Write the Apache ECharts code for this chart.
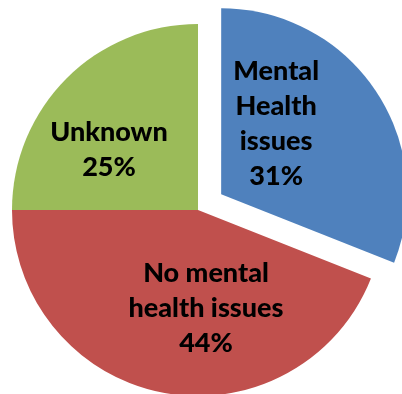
<!DOCTYPE html>
<html>
<head>
<meta charset="utf-8">
<script src="https://cdn.jsdelivr.net/npm/echarts@6/dist/echarts.min.js"></script>
<style>
  html, body { margin: 0; padding: 0; background: #ffffff; }
  #chart { width: 402px; height: 394px; }
</style>
</head>
<body>
<div id="chart"></div>
<script>
// Share of cases by mental health status
const categories = ['Mental\nHealth\nissues', 'No mental\nhealth issues', 'Unknown'];
const percentages = [31, 44, 25];
const sliceColors = ['#4F81BD', '#C0504D', '#9BBB59'];
const explodedIndex = 0;

// Pie geometry
const CX = 198, CY = 210, R = 186, EXPLODE = 28;

// Label anchor points (slice-local offsets from each pie's centre)
const labelOffsets = [[55, -70], [8, 98], [-89, -60]];

// Centre of the pulled-out slice: shifted along its bisector
const total = percentages.reduce((a, b) => a + b, 0);
const before = percentages.slice(0, explodedIndex).reduce((a, b) => a + b, 0);
const midAngle = (before + percentages[explodedIndex] / 2) / total * 2 * Math.PI;
const EX = CX + EXPLODE * Math.sin(midAngle);
const EY = CY - EXPLODE * Math.cos(midAngle);

const labelStyle = {
  show: true,
  position: 'inside',
  formatter: p => p.name + '\n' + p.value + '%',
  fontFamily: 'Lato',
  fontWeight: 900,
  fontSize: 27,
  lineHeight: 35,
  color: '#000000',
  align: 'center'
};

function pieSeries(center, showIndex) {
  return {
    type: 'pie',
    center: center,
    radius: [0, R],
    startAngle: 90,
    clockwise: true,
    avoidLabelOverlap: false,
    silent: true,
    emphasis: { disabled: true },
    itemStyle: { borderWidth: 0 },
    label: labelStyle,
    labelLine: { show: false },
    labelLayout: p => {
      const o = labelOffsets[p.dataIndex];
      return { x: center[0] + o[0], y: center[1] + o[1], align: 'center', verticalAlign: 'middle' };
    },
    data: categories.map((name, i) => {
      const visible = showIndex(i);
      return {
        name: name,
        value: percentages[i],
        itemStyle: { color: visible ? sliceColors[i] : 'rgba(0,0,0,0)' },
        label: { show: visible }
      };
    })
  };
}

const chart = echarts.init(document.getElementById('chart'), null, { renderer: 'canvas' });

chart.setOption({
  backgroundColor: '#ffffff',
  animation: false,
  series: [
    pieSeries([CX, CY], i => i !== explodedIndex),
    pieSeries([EX, EY], i => i === explodedIndex)
  ]
});
</script>
</body>
</html>
